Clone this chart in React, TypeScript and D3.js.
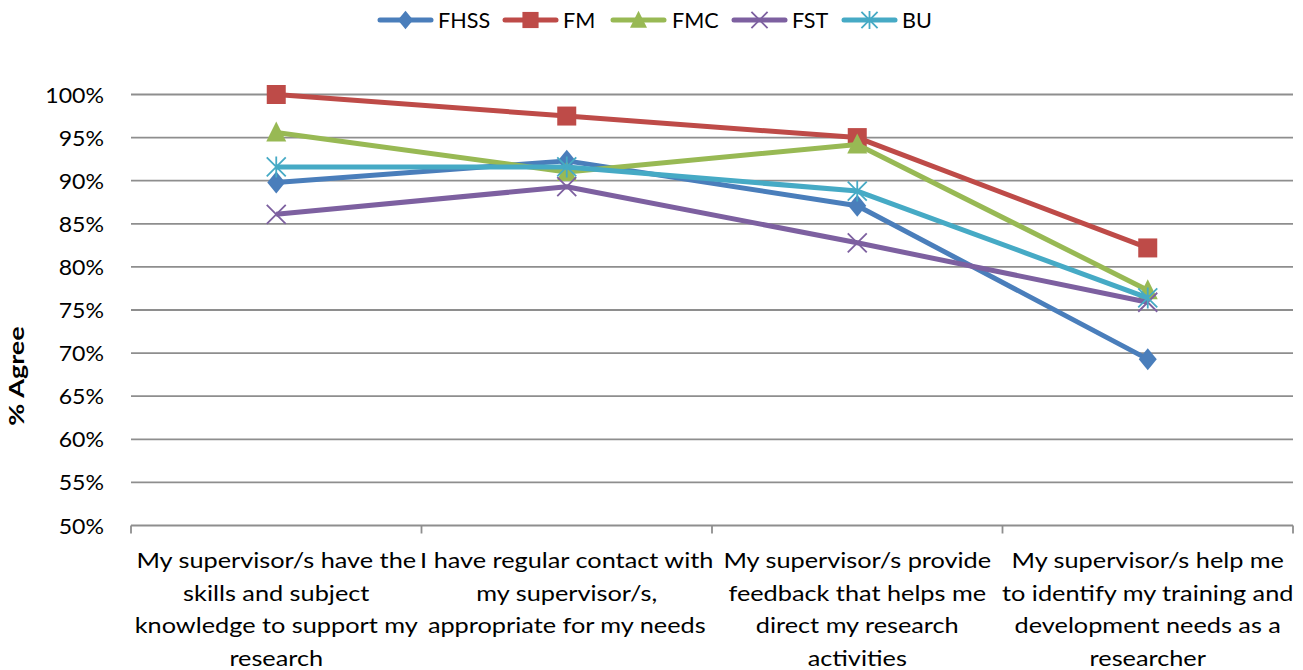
import React from "react";
import * as d3 from "d3";

const categories: string[][] = [
  ["My supervisor/s have the", "skills and subject", "knowledge to support my", "research"],
  ["I have regular contact with", "my supervisor/s,", "appropriate for my needs"],
  ["My supervisor/s provide", "feedback that helps me", "direct my research", "activities"],
  ["My supervisor/s help me", "to identify my training and", "development needs as a", "researcher"],
];
const seriesNames = ["FHSS", "FM", "FMC", "FST", "BU"];
const fhss = [89.8, 92.3, 87.1, 69.3];
const fm = [100, 97.5, 95.0, 82.2];
const fmc = [95.6, 91.0, 94.2, 77.3];
const fst = [86.1, 89.3, 82.8, 75.9];
const bu = [91.6, 91.6, 88.8, 76.4];
const yTicks = [50, 55, 60, 65, 70, 75, 80, 85, 90, 95, 100];
const colors = ["#4A7EBB", "#BE4B48", "#98B954", "#7D60A0", "#46AAC5"];
const shapes = ["diamond", "square", "triangle", "x", "asterisk"];

const FONT = "Lato, Carlito, 'Liberation Sans', sans-serif";

function Marker({ shape, color, x, y, k = 1 }: { shape: string; color: string; x: number; y: number; k?: number }) {
  if (shape === "diamond") {
    const w = 9 * k, h = 11 * k;
    return <path d={`M${x},${y - h}L${x + w},${y}L${x},${y + h}L${x - w},${y}Z`} fill={color} />;
  }
  if (shape === "square") {
    const s = 9.5 * k;
    return <rect x={x - s} y={y - s} width={2 * s} height={2 * s} fill={color} />;
  }
  if (shape === "triangle") {
    const s = 10 * k;
    return <path d={`M${x},${y - s * 1.1}L${x + s},${y + s * 0.9}L${x - s},${y + s * 0.9}Z`} fill={color} />;
  }
  const s = 9.5 * k;
  if (shape === "x") {
    return (
      <path d={`M${x - s},${y - s}L${x + s},${y + s}M${x - s},${y + s}L${x + s},${y - s}`} stroke={color} strokeWidth={1.8} />
    );
  }
  return (
    <path
      d={`M${x - s},${y - s}L${x + s},${y + s}M${x - s},${y + s}L${x + s},${y - s}M${x},${y - s - 1}L${x},${y + s + 1}`}
      stroke={color}
      strokeWidth={1.8}
    />
  );
}

function SText({ x, y, anchor, size, children, sx }: any) {
  return (
    <text transform={`translate(${x},${y}) scale(${sx},1)`} textAnchor={anchor} fontSize={size} fill="#000">
      {children}
    </text>
  );
}

export default function App() {
  const W = 1303, H = 670;
  const left = 131, right = 1293, top = 94.5, bottom = 525.5;
  const x = d3.scaleBand<number>().domain(d3.range(categories.length)).range([left, right]);
  const y = d3.scaleLinear().domain([50, 100]).range([bottom, top]);
  const data = [fhss, fm, fmc, fst, bu];
  const cx = (i: number) => (x(i) as number) + x.bandwidth() / 2;
  const line = d3
    .line<number>()
    .x((_, i) => cx(i))
    .y((d) => y(d));

  const legendX = [378, 503, 611, 732, 842];
  const legendTextX = [438, 563, 672, 792, 902];

  return (
    <svg width={W} height={H} style={{ position: "absolute", left: 0, top: 0 }} fontFamily={FONT}>
      <rect width={W} height={H} fill="#fff" />
      {yTicks.map((t) => (
        <g key={t}>
          {t > 50 && <line x1={left} x2={right} y1={y(t)} y2={y(t)} stroke="#8E8E8E" strokeWidth={1.8} />}
          <SText x={104} y={y(t) + 8} anchor="end" size={22} sx={1.05}>
            {t}%
          </SText>
        </g>
      ))}
      <line x1={left} x2={right} y1={bottom} y2={bottom} stroke="#8E8E8E" strokeWidth={1.8} />
      {d3.range(categories.length + 1).map((i) => {
        const xx = i < categories.length ? (x(i) as number) : right;
        return <line key={i} x1={xx} x2={xx} y1={bottom} y2={bottom + 8} stroke="#8E8E8E" strokeWidth={1.8} />;
      })}
      {categories.map((lines, i) => (
        <g key={i}>
          {lines.map((l, j) => (
            <SText key={j} x={cx(i)} y={568 + j * 32.5} anchor="middle" size={22} sx={1.15}>
              {l}
            </SText>
          ))}
        </g>
      ))}
      <text
        transform="translate(24,376) rotate(-90) scale(1.35,1)"
        textAnchor="middle"
        fontSize={20}
        fontWeight="bold"
        fill="#000"
      >
        % Agree
      </text>
      {data.map((vals, si) => (
        <g key={si}>
          <path d={line(vals) || ""} fill="none" stroke={colors[si]} strokeWidth={5} strokeLinejoin="round" />
          {vals.map((v, i) => (
            <Marker key={i} shape={shapes[si]} color={colors[si]} x={cx(i)} y={y(v)} />
          ))}
        </g>
      ))}
      {seriesNames.map((n, si) => (
        <g key={n}>
          <line
            x1={legendX[si] + 2}
            x2={legendX[si] + 53}
            y1={20}
            y2={20}
            stroke={colors[si]}
            strokeWidth={5}
            strokeLinecap="round"
          />
          <Marker shape={shapes[si]} color={colors[si]} x={legendX[si] + 27.5} y={20} k={0.85} />
          <SText x={legendTextX[si]} y={27.5} anchor="start" size={21} sx={1.03}>
            {n}
          </SText>
        </g>
      ))}
    </svg>
  );
}
